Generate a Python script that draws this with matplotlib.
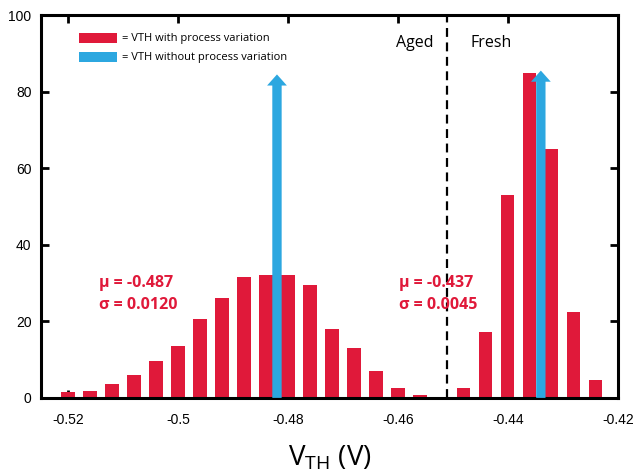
import matplotlib
matplotlib.use("Agg")
import matplotlib.pyplot as plt
from matplotlib.patches import Rectangle

# threshold voltage bins (V) and counts
aged_vth = [-0.520, -0.516, -0.512, -0.508, -0.504, -0.500, -0.496, -0.492,
            -0.488, -0.484, -0.480, -0.476, -0.472, -0.468, -0.464, -0.460, -0.456]
aged_count = [1.5, 1.7, 3.7, 6.1, 9.7, 13.5, 20.7, 26.0,
              31.5, 32.2, 32.1, 29.4, 18.0, 13.1, 7.0, 2.5, 0.8]
fresh_vth = [-0.448, -0.444, -0.440, -0.436, -0.432, -0.428, -0.424]
fresh_count = [2.5, 17.2, 53.0, 85.0, 65.0, 22.4, 4.7]

# nominal VTH (no process variation)
nominal_vth = [-0.482, -0.434]
nominal_top = [84.5, 85.5]

boundary = -0.451
stats = [(-0.5144, "μ = -0.487", "σ = 0.0120"), (-0.4598, "μ = -0.437", "σ = 0.0045")]

RED = "#E0193A"
BLUE = "#2CA7E0"

fig = plt.figure(figsize=(6.33, 4.72), dpi=100)
ax = fig.add_axes([0.065, 0.157, 0.911, 0.811])

ax.bar(aged_vth + fresh_vth, aged_count + fresh_count, width=0.0024, color=RED, zorder=2)
for x, top in zip(nominal_vth, nominal_top):
    ax.arrow(x, 0, 0, top, width=0.0017, head_width=0.0036, head_length=2.9,
             length_includes_head=True, color=BLUE, lw=0, zorder=3)

ax.axvline(boundary, color="black", ls=(0, (4, 2.5)), lw=1.6, zorder=4)

for x, mu, sigma in stats:
    ax.text(x, 29.9, mu, color=RED, fontsize=11.5, fontweight="bold",
            family="Open Sans", va="center", zorder=5)
    ax.text(x, 24.2, sigma, color=RED, fontsize=11.5, fontweight="bold",
            family="Open Sans", va="center", zorder=5)

ax.text(0.648, 0.927, "Aged", transform=ax.transAxes, ha="center", va="center",
        fontsize=11.5, family="Open Sans")
ax.text(0.780, 0.927, "Fresh", transform=ax.transAxes, ha="center", va="center",
        fontsize=11.5, family="Open Sans")

# hand-made legend
for y0, col, label in [(0.927, RED, "= VTH with process variation"),
                       (0.877, BLUE, "= VTH without process variation")]:
    ax.add_patch(Rectangle((0.066, y0), 0.066, 0.026, transform=ax.transAxes,
                           color=col, lw=0, zorder=5))
    ax.text(0.140, y0 + 0.013, label, transform=ax.transAxes, va="center",
            fontsize=8, family="Open Sans", zorder=5)

ax.set_xlim(-0.5249, -0.42)
ax.set_ylim(0, 100)
ax.set_xticks([-0.52, -0.5, -0.48, -0.46, -0.44, -0.42])
ax.set_xticklabels(["-0.52", "-0.5", "-0.48", "-0.46", "-0.44", "-0.42"])
ax.set_yticks([0, 20, 40, 60, 80, 100])
ax.tick_params(direction="in", length=6, width=2, top=True, right=True, labelsize=10)
ax.tick_params(axis="x", pad=11)
ax.tick_params(axis="y", pad=7)
for lab in ax.get_xticklabels() + ax.get_yticklabels():
    lab.set_family("Liberation Sans")
for s in ax.spines.values():
    s.set_linewidth(2.2)

ax.set_xlabel("V$_{\\mathregular{TH}}$ (V)", fontsize=20, family="Open Sans", labelpad=12)

fig.savefig("out.png", dpi=100, facecolor="white")
